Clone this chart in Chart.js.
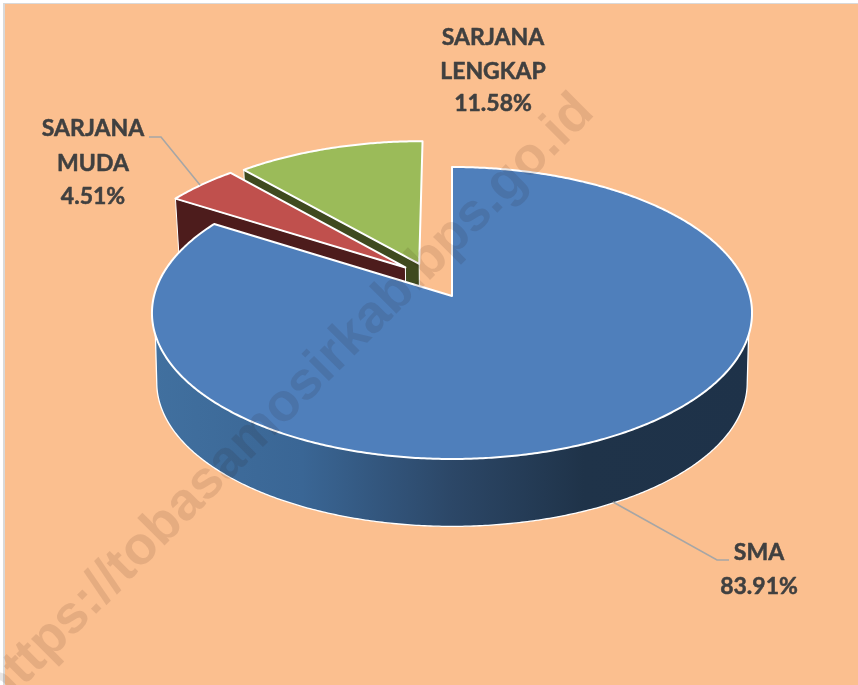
<!DOCTYPE html>
<html><head><meta charset="utf-8">
<style>html,body{margin:0;padding:0;background:#fff}canvas{display:block}</style>
<script src="https://cdn.jsdelivr.net/npm/chart.js@4"></script></head>
<body><canvas id="c" width="858" height="685"></canvas>
<script>
const categories = ["SMA", "SARJANA MUDA", "SARJANA LENGKAP"];
const shares = [83.91, 4.51, 11.58];
const sliceColors = ["#4F7FBB", "#C0504D", "#9BBB59"];
const sideColors = [null, "#4D1C1C", "#3F4A1F"];
const watermark = "https://tobasamosirkab.bps.go.id";

const LABEL_FONT = 'bold 23px Lato, "Open Sans", sans-serif';
const G = {X0:452, Y0:296, A:298, B:144, k:0.1164, dy:70, sb:0.984};
const explode = [[0,0],[-0.16,0.203],[-0.113,0.229]];
const labelSpots = [
  {x:759, y:[553,587]},
  {x:93,  y:[129,164,197], lines:["SARJANA","MUDA"]},
  {x:493, y:[38,72,104],   lines:["SARJANA","LENGKAP"]}
];
const leaders = [
  [[729,560],[717,560],[613,502]],
  [[149,137],[161,137],[200,185]]
];
const rad = d => d*Math.PI/180;
function P(t, r, e, low){
  const u = e[0]+r*Math.sin(t), v = e[1]+r*Math.cos(t), w = 1+G.k*v, s = low?G.sb:1;
  return [G.X0+s*G.A*u/w, G.Y0+(low?G.dy:0)-s*G.B*v/w];
}
function arcPts(ctx, a, b, e, low, first){
  const n = Math.max(2, Math.ceil(Math.abs(b-a)/rad(0.5)));
  for(let i=0;i<=n;i++){
    const p = P(a+(b-a)*i/n, 1, e, low);
    if(i===0 && first) ctx.moveTo(p[0],p[1]); else ctx.lineTo(p[0],p[1]);
  }
}
const pie3d = {
  id:'pie3d',
  beforeDraw(chart){
    const c = chart.ctx;
    c.save();
    c.fillStyle='#fff'; c.fillRect(0,0,858,685);
    c.fillStyle='#D9D9D9'; c.fillRect(3,3,855,682);
    c.fillStyle='#FBBF8F'; c.fillRect(5,4,853,681);
    c.restore();
  },
  beforeDatasetsDraw(chart){
    const c = chart.ctx, arcs = chart.getDatasetMeta(0).data;
    c.save(); c.lineJoin='round';
    [2,1,0].forEach(i=>{
      const arc = arcs[i], a = arc.startAngle+Math.PI/2, b = arc.endAngle+Math.PI/2, e = explode[i];
      if(i===0){
        const g = c.createLinearGradient(152,0,752,0);
        g.addColorStop(0,'#41709F'); g.addColorStop(0.25,'#3A6695');
        g.addColorStop(0.5,'#2C4767'); g.addColorStop(0.72,'#1F3349'); g.addColorStop(1,'#1E3249');
        c.beginPath();
        arcPts(c, rad(97), rad(263), e, true, true);
        arcPts(c, rad(254.8), rad(105.2), e, false, false);
        c.closePath();
        c.fillStyle=g; c.fill();
        c.beginPath();
        const s = P(rad(105.2),1,e,false); c.moveTo(s[0],s[1]);
        arcPts(c, rad(97), rad(263), e, true, false);
        const t = P(rad(254.8),1,e,false); c.lineTo(t[0],t[1]);
        c.strokeStyle='#fff'; c.lineWidth=1.3; c.stroke();
      } else {
        const tip=[P(0,0,e,false),P(0,0,e,true)], o=[P(a,1,e,false),P(a,1,e,true)];
        c.beginPath(); c.moveTo(tip[0][0],tip[0][1]); c.lineTo(o[0][0],o[0][1]);
        c.lineTo(o[1][0],o[1][1]); c.lineTo(tip[1][0],tip[1][1]); c.closePath();
        c.fillStyle=sideColors[i]; c.fill();
        c.strokeStyle='#fff'; c.lineWidth=1; c.stroke();
      }
      const tip=P(0,0,e,false);
      c.beginPath(); c.moveTo(tip[0],tip[1]);
      arcPts(c,a,b,e,false,false);
      c.closePath();
      c.fillStyle=arc.options.backgroundColor; c.fill();
      c.strokeStyle='#fff'; c.lineWidth=2; c.stroke();
    });
    c.restore();
    return false;
  },
  afterDraw(chart){
    const c = chart.ctx;
    c.save();
    c.strokeStyle='#A6A6A6'; c.lineWidth=1.6;
    leaders.forEach(l=>{
      c.beginPath(); l.forEach((p,i)=> i?c.lineTo(p[0],p[1]):c.moveTo(p[0],p[1])); c.stroke();
    });
    c.font=LABEL_FONT; c.fillStyle='#404040'; c.strokeStyle='#404040'; c.lineWidth=0.5; c.lineJoin='round';
    c.textAlign='center'; c.textBaseline='middle';
    categories.forEach((name,i)=>{
      const s = labelSpots[i], lines=(s.lines||[name]).concat(shares[i].toFixed(2)+'%');
      lines.forEach((t,j)=>{c.fillText(t,s.x,s.y[j]); c.strokeText(t,s.x,s.y[j]);});
    });
    c.restore();
    c.save();
    c.translate(0,710); c.rotate(-Math.PI/4);
    c.font='bold 53.6px "Liberation Sans", Arial, sans-serif';
    c.fillStyle='rgba(40,10,0,0.10)'; c.textAlign='left'; c.textBaseline='alphabetic';
    c.fillText(watermark,0,0);
    c.restore();
  }
};
new Chart(document.getElementById('c'),{
  type:'pie',
  data:{labels:categories,datasets:[{data:shares,backgroundColor:sliceColors,borderWidth:0}]},
  options:{responsive:false,animation:false,rotation:0,
    plugins:{legend:{display:false},tooltip:{enabled:false},title:{display:false}}},
  plugins:[pie3d]
});
</script></body></html>
